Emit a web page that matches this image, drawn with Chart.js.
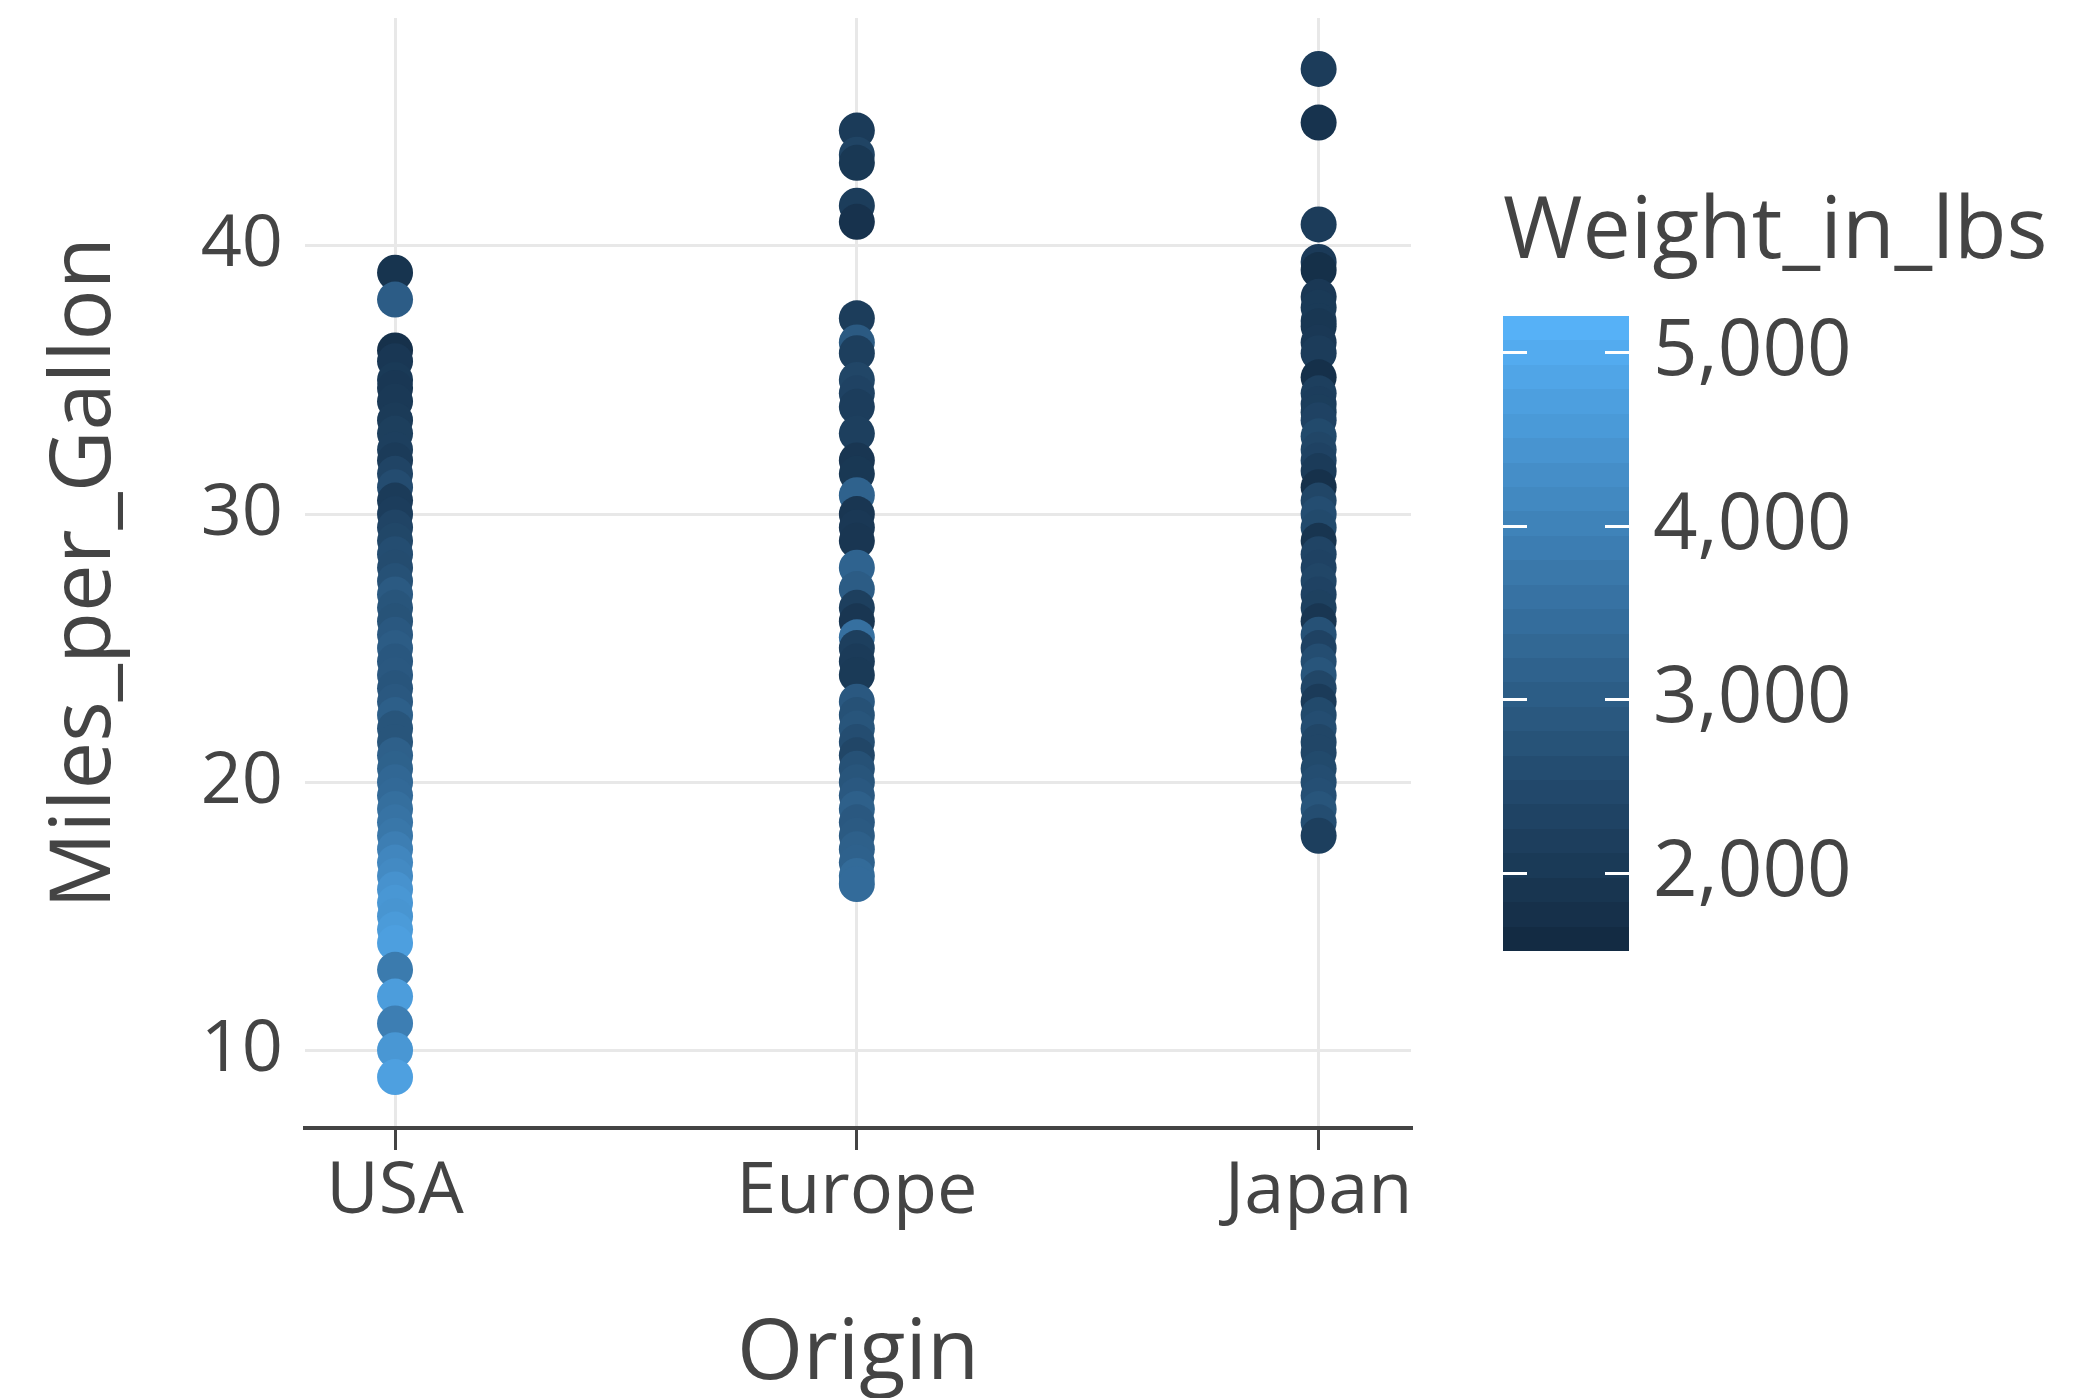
<!DOCTYPE html>
<html>
<head>
<meta charset="utf-8">
<script src="https://cdn.jsdelivr.net/npm/chart.js@4.4.0/dist/chart.umd.min.js"></script>
<style>
  html, body { margin: 0; padding: 0; background: #fff; }
  #wrap { width: 2089px; height: 1398px; }
</style>
</head>
<body>
<div id="wrap"><canvas id="chart" width="2089" height="1398"></canvas></div>
<script>
const origins = ['USA', 'Europe', 'Japan'];
const mpgTicks = [10, 20, 30, 40];
const weightTicks = [2000, 3000, 4000, 5000];

// values, top of each column first
const usaMpg = [39.0, 38.0, 36.1, 35.7, 35.0, 34.7, 34.2, 33.5, 33.0, 32.4, 32.0, 31.5, 31.0, 30.5, 30.0,
  29.5, 29.0, 28.5, 28.0, 27.5, 27.0, 26.5, 26.0, 25.5, 25.0, 24.5, 24.0, 23.5, 23.0, 22.5, 22.0,
  21.5, 21.0, 20.5, 20.0, 19.5, 19.0, 18.5, 18.0, 17.5, 17.0, 16.5, 16.0, 15.5, 15.0, 14.5, 14.0,
  13.0, 12.0, 11.0, 10.0, 9.0];
const usaWeight = [1875, 3015, 1800, 1980, 2050, 1980, 2035, 2075, 2190, 2200, 2085, 2350, 2580, 2100, 2155,
  2350, 2420, 2600, 2560, 2700, 2950, 2800, 2750, 2900, 3000, 2880, 2900, 2820, 2900, 3085, 2800,
  2800, 3100, 3150, 3300, 3350, 3500, 3600, 3700, 3900, 4100, 4200, 4400, 4500, 4450, 4600, 4700,
  3800, 4650, 3900, 4500, 4732];

const europeMpg = [44.3, 43.4, 43.1, 41.5, 40.9, 37.3, 36.4, 36.0, 35.0, 34.5, 34.0, 33.0, 32.0, 31.5, 30.7,
  30.0, 29.5, 29.0, 28.0, 27.2, 26.5, 26.0, 25.4, 25.0, 24.5, 24.0, 23.0, 22.5, 22.0, 21.5, 21.0,
  20.5, 20.0, 19.5, 19.0, 18.5, 18.0, 17.5, 17.0, 16.5, 16.2];
const europeWeight = [2085, 2335, 1985, 2144, 1835, 2130, 2950, 2205, 2400, 2300, 2150, 2200, 1950, 1990, 3160,
  1950, 2000, 1940, 3200, 3000, 2200, 1950, 3530, 2200, 2100, 2050, 2900, 2700, 2800, 2600, 2400,
  2700, 2800, 2900, 3100, 2900, 2950, 3100, 3140, 3400, 3410];

const japanMpg = [46.6, 44.6, 40.8, 39.4, 39.1, 38.1, 37.7, 37.2, 37.0, 36.4, 36.0, 35.1, 34.5, 34.1, 33.8,
  33.5, 32.9, 32.4, 32.0, 31.6, 31.0, 30.5, 30.0, 29.5, 29.0, 28.5, 28.0, 27.5, 27.0, 26.5, 26.0,
  25.5, 25.0, 24.5, 24.0, 23.5, 23.0, 22.5, 22.0, 21.5, 21.1, 20.5, 20.0, 19.5, 19.0, 18.5, 18.0];
const japanWeight = [2110, 1850, 2110, 2070, 1755, 2000, 2050, 2050, 1975, 2000, 2120, 1760, 2200, 2150, 2160,
  2300, 2500, 2400, 2300, 2100, 1800, 2400, 2600, 2500, 1900, 2350, 2300, 2400, 2300, 2250, 1950,
  2700, 2300, 2600, 2800, 2400, 2100, 2500, 2600, 2400, 2400, 2500, 2600, 2650, 2800, 2600, 2200];

const originMpg = [usaMpg, europeMpg, japanMpg];
const originWeight = [usaWeight, europeWeight, japanWeight];

// ggplot-style gradient, interpolated in Lab
const lowColor = '#132B43';
const highColor = '#56B1F7';
const weightMin = 1613;
const weightMax = 5140;

function hexToLab(hex) {
  const c = [1, 3, 5].map(i => parseInt(hex.substr(i, 2), 16) / 255)
    .map(v => v <= 0.04045 ? v / 12.92 : Math.pow((v + 0.055) / 1.055, 2.4));
  const x = (0.4124 * c[0] + 0.3576 * c[1] + 0.1805 * c[2]) / 0.95047;
  const y = 0.2126 * c[0] + 0.7152 * c[1] + 0.0722 * c[2];
  const z = (0.0193 * c[0] + 0.1192 * c[1] + 0.9505 * c[2]) / 1.08883;
  const f = t => t > 0.008856 ? Math.cbrt(t) : 7.787 * t + 16 / 116;
  return [116 * f(y) - 16, 500 * (f(x) - f(y)), 200 * (f(y) - f(z))];
}

function labToRgb(lab) {
  const fy = (lab[0] + 16) / 116;
  const fx = fy + lab[1] / 500;
  const fz = fy - lab[2] / 200;
  const inv = t => t * t * t > 0.008856 ? t * t * t : (t - 16 / 116) / 7.787;
  const x = inv(fx) * 0.95047, y = inv(fy), z = inv(fz) * 1.08883;
  const lin = [
    3.2406 * x - 1.5372 * y - 0.4986 * z,
    -0.9689 * x + 1.8758 * y + 0.0415 * z,
    0.0557 * x - 0.2040 * y + 1.0570 * z
  ];
  const rgb = lin.map(v => {
    const s = v <= 0.0031308 ? 12.92 * v : 1.055 * Math.pow(v, 1 / 2.4) - 0.055;
    return Math.round(Math.min(1, Math.max(0, s)) * 255);
  });
  return `rgb(${rgb[0]}, ${rgb[1]}, ${rgb[2]})`;
}

const lowLab = hexToLab(lowColor);
const highLab = hexToLab(highColor);

function weightColor(w) {
  const t = Math.min(1, Math.max(0, (w - weightMin) / (weightMax - weightMin)));
  return labToRgb(lowLab.map((v, i) => v + (highLab[i] - v) * t));
}

const fontFamily = "'Open Sans', 'DejaVu Sans', sans-serif";
const textColor = '#444';

const colorbarPlugin = {
  id: 'colorbar',
  afterDraw(chart) {
    const ctx = chart.ctx;
    const left = 1503, right = 1629, top = 316, bottom = 951;
    const barMin = 1551, barMax = 5207;
    const yOf = w => bottom - (w - barMin) / (barMax - barMin) * (bottom - top);
    const steps = 26;

    ctx.save();
    for (let i = 0; i < steps; i++) {
      const w0 = barMin + (barMax - barMin) * i / steps;
      const w1 = barMin + (barMax - barMin) * (i + 1) / steps;
      const y0 = Math.round(yOf(w1));
      const y1 = Math.round(yOf(w0));
      ctx.fillStyle = weightColor((w0 + w1) / 2);
      ctx.fillRect(left, y0, right - left, y1 - y0);
    }

    ctx.strokeStyle = '#fff';
    ctx.lineWidth = 3;
    ctx.font = `78px ${fontFamily}`;
    ctx.fillStyle = textColor;
    ctx.textAlign = 'left';
    ctx.textBaseline = 'middle';
    weightTicks.forEach(w => {
      const y = Math.round(yOf(w)) + 0.5;
      ctx.beginPath();
      ctx.moveTo(left, y);
      ctx.lineTo(left + 24, y);
      ctx.moveTo(right - 24, y);
      ctx.lineTo(right, y);
      ctx.stroke();
      ctx.fillText(w.toLocaleString('en-US'), 1653, y);
    });

    ctx.font = `86px ${fontFamily}`;
    ctx.textBaseline = 'alphabetic';
    ctx.fillText('Weight_in_lbs', 1503, 258);
    ctx.restore();
  }
};

const datasets = origins.map((name, i) => ({
  label: name,
  data: originMpg[i].map(v => ({ x: i, y: v })),
  backgroundColor: originWeight[i].map(weightColor),
  borderWidth: 0,
  pointRadius: 18,
  pointHoverRadius: 18
}));

new Chart(document.getElementById('chart'), {
  type: 'scatter',
  data: { datasets },
  plugins: [colorbarPlugin],
  options: {
    responsive: false,
    animation: false,
    devicePixelRatio: 1,
    events: [],
    layout: { padding: { left: 0, top: 14, right: 678, bottom: 0 } },
    plugins: {
      legend: { display: false },
      tooltip: { enabled: false }
    },
    scales: {
      x: {
        type: 'linear',
        min: -0.195,
        max: 2.2,
        afterFit: s => { s.height = 270; },
        afterBuildTicks: s => { s.ticks = origins.map((_, i) => ({ value: i })); },
        grid: { color: '#e8e8e8', lineWidth: 3, drawTicks: true, tickLength: 22, tickColor: textColor, tickWidth: 3 },
        border: { display: true, color: textColor, width: 4 },
        ticks: {
          autoSkip: false,
          maxRotation: 0,
          padding: 6,
          color: textColor,
          font: { family: fontFamily, size: 72, lineHeight: 1 },
          callback: v => origins[v]
        },
        title: {
          display: true,
          text: 'Origin',
          color: textColor,
          font: { family: fontFamily, size: 85, lineHeight: 1 },
          padding: { top: 0, bottom: 1 }
        }
      },
      y: {
        min: 7.1,
        max: 48.5,
        afterFit: s => {
          s.width = 305;
          s.paddingTop = 0;
          s.paddingBottom = 0;
        },
        afterBuildTicks: s => { s.ticks = mpgTicks.map(v => ({ value: v })); },
        grid: { color: '#e8e8e8', lineWidth: 3, drawTicks: false },
        border: { display: false },
        ticks: {
          padding: 22,
          color: textColor,
          font: { family: fontFamily, size: 72, lineHeight: 1 }
        },
        title: {
          display: true,
          text: 'Miles_per_Gallon',
          color: textColor,
          font: { family: fontFamily, size: 85, lineHeight: 1 },
          padding: { top: 43, bottom: 0 }
        }
      }
    }
  }
});
</script>
</body>
</html>
